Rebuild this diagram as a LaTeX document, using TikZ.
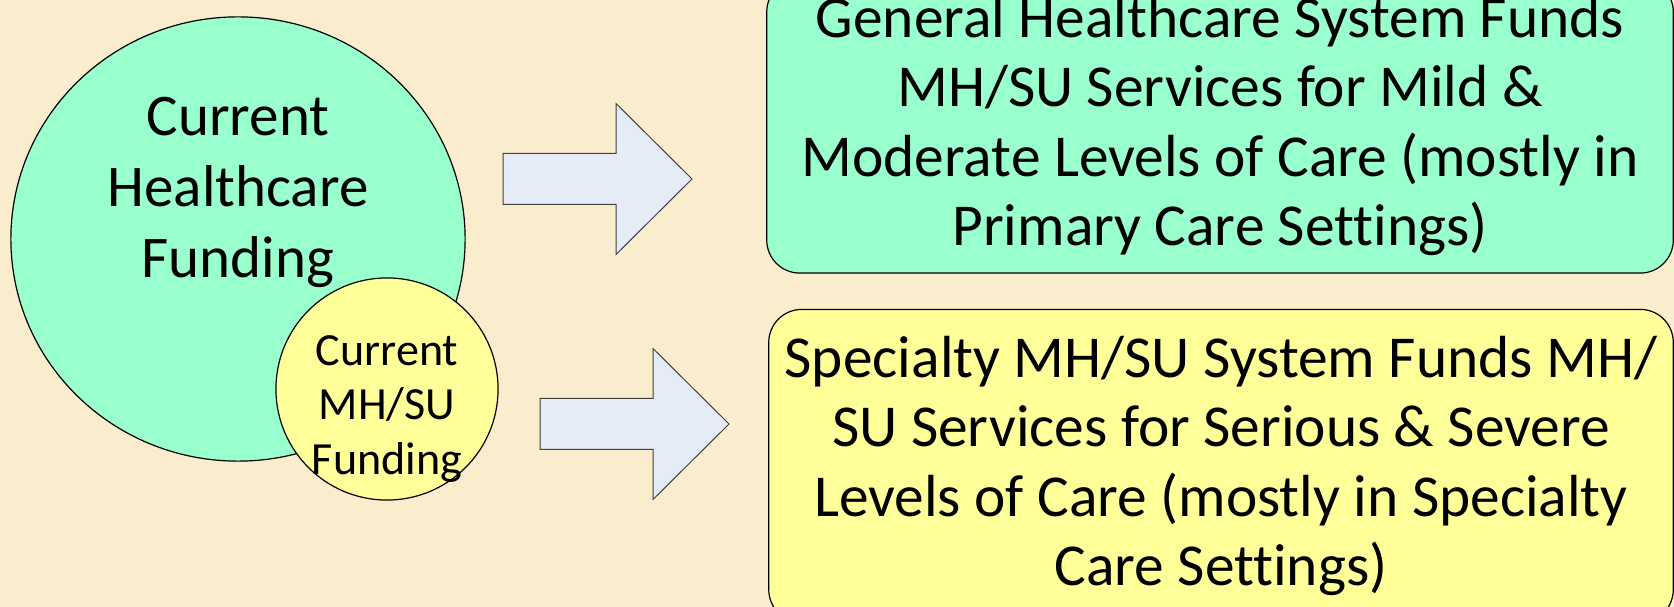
\documentclass[tikz,border=0pt]{standalone}
\usepackage{fontspec}
\setmainfont{Carlito}[Ligatures={NoCommon}]
\usetikzlibrary{shapes.geometric}

\definecolor{r250g237b205}{rgb}{0.980392,0.929412,0.803922}
\definecolor{r153g255b204}{rgb}{0.600000,1.000000,0.800000}
\definecolor{r255g255b153}{rgb}{1.000000,1.000000,0.600000}
\definecolor{r230g236b247}{rgb}{0.901961,0.925490,0.968627}
\definecolor{r64g64b64}{rgb}{0.250980,0.250980,0.250980}

\begin{document}
\begin{tikzpicture}[x=0.01cm,y=-0.01cm,
    fundline/.style={draw=black,line width=0.012cm},
    bigtext/.style={align=center,inner sep=0pt,font=\fontsize{16.8}{20.2}\selectfont},
    smalltext/.style={align=center,inner sep=0pt,font=\fontsize{13.1}{15.6}\selectfont},
    blockarrow/.style={draw=r64g64b64,fill=r230g236b247,line width=0.01cm,line join=miter},
    fundbox/.style={fundline,rounded corners=0.33cm,align=center,inner sep=0pt,
                    font=\fontsize{16.9}{19.8}\selectfont}]

% Background
\fill[r250g237b205] (0,0) rectangle (1674,607);
\useasboundingbox (0,0) rectangle (1674,607);

% Drawing circle current healthcare funding
\node[fundline,fill=r153g255b204,ellipse,minimum width=4.54cm,minimum height=4.44cm] (allfund) at (238,239) {};
\node[bigtext] (alltext) at (238,192) {Current\\Healthcare\\Funding};

% Drawing circle current MH/SU funding
\node[fundline,fill=r255g255b153,circle,minimum size=2.22cm] (mhfund) at (387,389) {};
\node[smalltext] (mhtext) at (387,409) {Current\\MH/SU\\Funding};

% Drawing arrows
\foreach \x/\y in {503/179, 540/424}
    \draw[blockarrow] (\x,\y-25.5) -- ++(113,0) -- ++(0,-50) -- ++(76,75.5)
        -- ++(-76,75.5) -- ++(0,-50) -- ++(-113,0) -- cycle;

% Drawing box general healthcare system
\node[fundbox,fill=r153g255b204,minimum width=9.06cm,minimum height=2.94cm] (genbox) at (1220,126)
    {General Healthcare System Funds\\MH/SU Services for Mild \&\\Moderate Levels of Care (mostly in\\Primary Care Settings)};

% Drawing box specialty MH/SU system
\node[fundbox,fill=r255g255b153,minimum width=9.04cm,minimum height=3.13cm] (specbox) at (1221,466)
    {Specialty MH/SU System Funds MH/\\SU Services for Serious \& Severe\\Levels of Care (mostly in Specialty\\Care Settings)};

\end{tikzpicture}
\end{document}
